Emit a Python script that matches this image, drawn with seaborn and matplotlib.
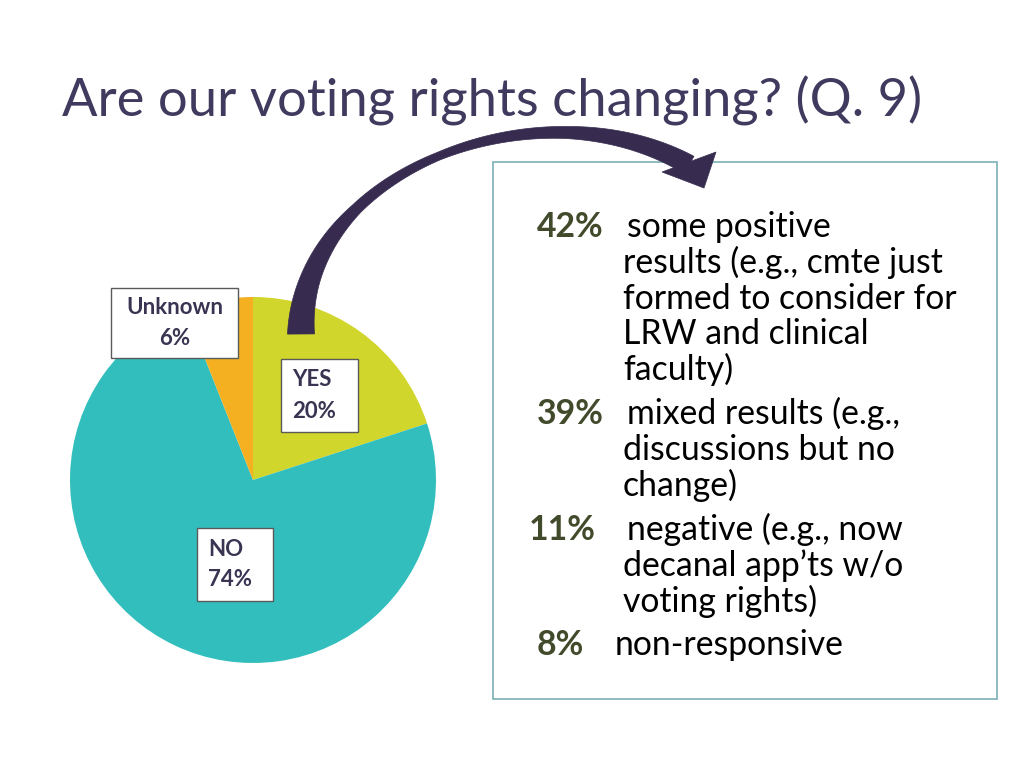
import numpy as np
import matplotlib
matplotlib.use("Agg")
import matplotlib.pyplot as plt
from matplotlib.patches import Rectangle, Polygon
import seaborn as sns

# ---- data ----
categories = ["YES", "NO", "Unknown"]
values = [20, 74, 6]
pie_labels = ["YES\n20%", "NO\n74%", "Unknown\n6%"]
pie_colors = ["#D0D62B", "#33BEBE", "#F5B022"]

title = "Are our voting rights changing? (Q. 9)"
detail_pcts = ["42%", "39%", "11%", "8%"]
detail_lines = [
    ["some positive", "results (e.g., cmte just", "formed to consider for",
     "LRW and clinical", "faculty)"],
    ["mixed results (e.g.,", "discussions but no", "change)"],
    ["negative (e.g., now", "decanal app\u2019ts w/o", "voting rights)"],
    ["non-responsive"],
]

sns.set_theme(style="white")
plt.rcParams["font.family"] = ["Lato", "DejaVu Sans"]

W, H = 1024, 768
fig = plt.figure(figsize=(W / 100, H / 100), dpi=100)
fig.patch.set_facecolor("white")

# pie axes (pixel box 70..436 x 297..663)
cx, cy, r = 253, 480, 183
ax = fig.add_axes([(cx - r) / W, (H - cy - r) / H, 2 * r / W, 2 * r / H])
ax.pie(values, colors=pie_colors, startangle=90, counterclock=False,
       radius=1, wedgeprops=dict(linewidth=0))
ax.set_xlim(-1, 1)
ax.set_ylim(-1, 1)
ax.set_aspect("equal")
ax.axis("off")

# overlay axes in pixel coordinates
ov = fig.add_axes([0, 0, 1, 1], zorder=5)
ov.set_xlim(0, W)
ov.set_ylim(H, 0)
ov.axis("off")
ov.patch.set_alpha(0)

title_col = "#3F3A5E"
t = ov.text(62, 116, title, fontsize=40, color=title_col, va="baseline", ha="left")
fig.canvas.draw()
wpx = t.get_window_extent().width
t.set_fontsize(40 * 858 / wpx)

# label boxes on pie
lab_col = "#3A3452"
boxes = {  # x0, y0, x1, y1, text x, align
    "Unknown": (111, 288, 238, 358, 174.5, "center"),
    "YES": (281, 359, 358, 432, 292, "left"),
    "NO": (197, 528, 273, 601, 208, "left"),
}
for cat, lab in zip(categories, pie_labels):
    x0, y0, x1, y1, tx, al = boxes[cat]
    ov.add_patch(Rectangle((x0, y0), x1 - x0, y1 - y0, facecolor="white",
                           edgecolor="#5A5A5A", linewidth=1.0, zorder=3))
    l1, l2 = lab.split("\n")
    ym = (y0 + y1) / 2
    ov.text(tx, ym - 15.5, l1, fontsize=16, fontweight="bold", color=lab_col,
            ha=al, va="center", zorder=4)
    ov.text(tx, ym + 15.5, l2, fontsize=16, fontweight="bold", color=lab_col,
            ha=al, va="center", zorder=4)

# right panel box
ov.add_patch(Rectangle((493, 162), 504, 537, facecolor="white",
                       edgecolor="#7BAFB6", linewidth=1.2, zorder=1))

pct_col = "#414A2B"
pct_x = [537, 537, 529, 537]
first_x = [627, 627, 627, 615]
block_base = [237, 424, 540, 655]
lh = 35.8
fs_body = 24.3
for i, (p, lines) in enumerate(zip(detail_pcts, detail_lines)):
    yb = block_base[i]
    ov.text(pct_x[i], yb, p, fontsize=fs_body, fontweight="bold", color=pct_col,
            ha="left", va="baseline", zorder=4)
    for k, line in enumerate(lines):
        x = first_x[i] if k == 0 else 623
        ov.text(x, yb + k * lh, line, fontsize=fs_body, color="black",
                ha="left", va="baseline", zorder=4)

# curved arrow (decoration)
arrow_col = "#372C4F"
P = np.array([[301, 334], [300, 170], [540, 80], [689, 165]], dtype=float)
ts = np.linspace(0, 1, 200)
B = ((1 - ts) ** 3)[:, None] * P[0] + (3 * (1 - ts) ** 2 * ts)[:, None] * P[1] \
    + (3 * (1 - ts) * ts ** 2)[:, None] * P[2] + (ts ** 3)[:, None] * P[3]
D = (3 * (1 - ts) ** 2)[:, None] * (P[1] - P[0]) + (6 * (1 - ts) * ts)[:, None] * (P[2] - P[1]) \
    + (3 * ts ** 2)[:, None] * (P[3] - P[2])
D /= np.linalg.norm(D, axis=1)[:, None]
N = np.column_stack([-D[:, 1], D[:, 0]])
wid = np.interp(ts, [0, 0.12, 0.3, 0.5, 0.75, 1.0], [27, 20, 11, 8, 12, 20])
left = B + N * (wid / 2)[:, None]
right = B - N * (wid / 2)[:, None]
shaft = np.vstack([left, right[::-1]])
ov.add_patch(Polygon(shaft, closed=True, facecolor=arrow_col, edgecolor=arrow_col,
                     linewidth=0.5, zorder=6))
head = np.array([[662, 172], [716, 152], [704, 188]])
ov.add_patch(Polygon(head, closed=True, facecolor=arrow_col, edgecolor=arrow_col,
                     linewidth=0.5, zorder=6))

fig.savefig("out.png", dpi=100, facecolor="white")
